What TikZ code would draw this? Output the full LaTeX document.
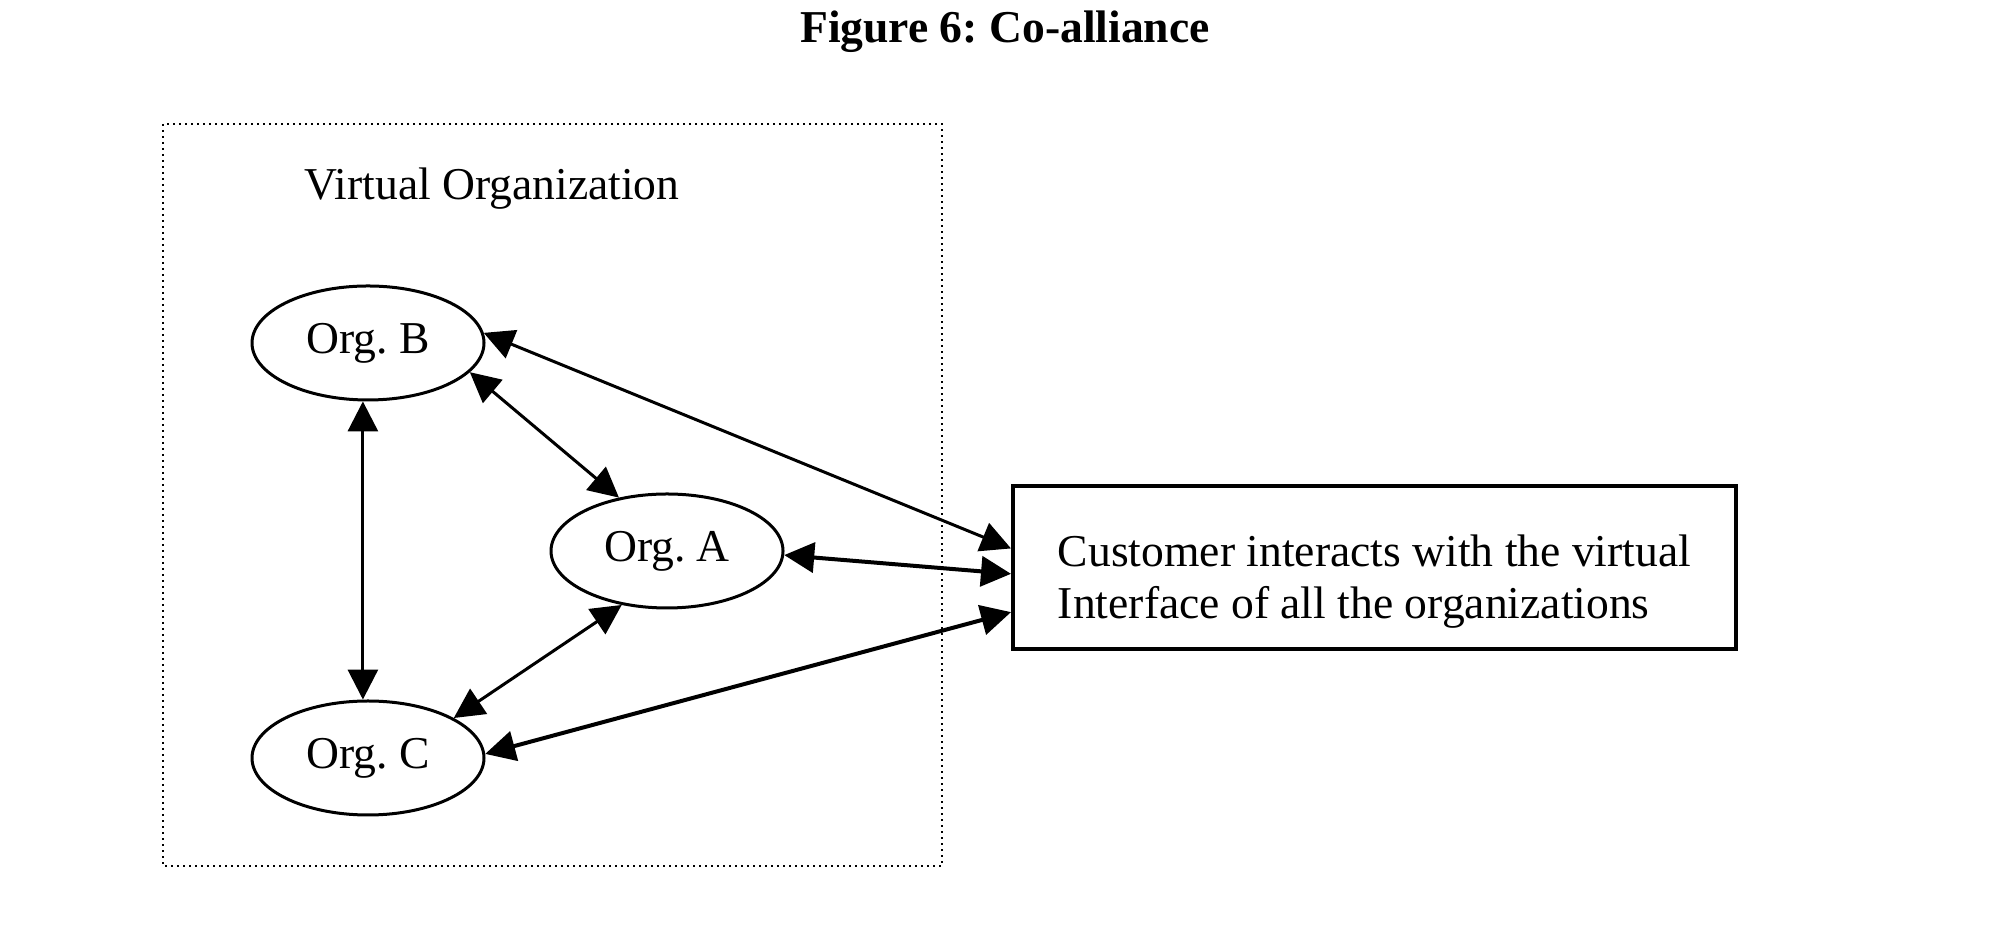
\documentclass[tikz,border=0pt]{standalone}
\usepackage{fontspec}
\setmainfont{Liberation Serif}
\usetikzlibrary{arrows.meta,positioning,shapes.geometric}
\frenchspacing

\begin{document}
\begin{tikzpicture}[<->, >={Triangle[length=7.5pt, width=7.5pt]}, x=0.25pt, y=-0.25pt, line width=0.75pt,
    font=\fontsize{11.4pt}{13pt}\selectfont,
    org/.style={ellipse, draw, minimum width=58pt, minimum height=28.5pt, inner sep=0pt},
    custbox/.style={draw, line width=1pt, minimum width=180.75pt, minimum height=40.75pt}]
    \useasboundingbox (0,0) rectangle (2008,948);
    \node[font=\fontsize{11.4pt}{13pt}\selectfont\bfseries, anchor=base] (title) at (1005,43) {Figure 6: Co-alliance};
    \draw[-, densely dotted, line width=0.5pt] (163,124) rectangle (942,866);
    \node[anchor=base] (vo) at (492,200) {Virtual Organization};
    \node[org] (B) at (368,343) {Org. B};
    \node[org] (A) at (667,551) {Org. A};
    \node[org] (C) [below=74.5pt of B] {Org. C};
    \node[custbox] (cust) at (1374.5,567.5) {};
    \node[align=left] (custtext) at ([yshift=-3.5pt]cust.center) {Customer interacts with the virtual\\Interface of all the organizations};

    \path
        (B.265) edge (C.95)
        (B.344) edge (A.132)
        (B.5) edge (cust.177)
        (A.358) edge[line width=1pt] (cust.181)
        (A.230) edge (C.25)
        (C.2) edge[line width=1pt] (cust.187);
\end{tikzpicture}
\end{document}
